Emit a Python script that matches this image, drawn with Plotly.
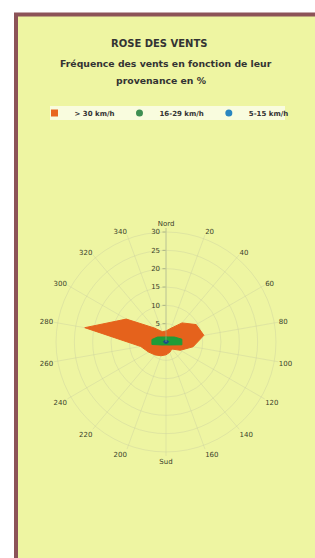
import plotly.graph_objects as go

# Data (wind rose, % frequency by direction)
directions = [0, 20, 40, 60, 80, 100, 120, 140, 160, 180, 200, 220, 240, 260, 280, 300, 320, 340]
dir_labels = ["Nord", "20", "40", "60", "80", "100", "120", "140", "160", "Sud",
              "200", "220", "240", "260", "280", "300", "320", "340"]
series_names = ["> 30 km/h", "16-29 km/h", "5-15 km/h"]
vals_30 = [3, 4, 6.8, 9.5, 10.5, 7.5, 4.5, 2.5, 3, 3.5, 4, 4.6, 5.5, 7, 22.5, 12.5, 5, 3]
vals_16_29 = [1.4, 1.45, 1.8, 2.7, 4.4, 4.4, 1.6, 1.1, 0.85, 0.8, 0.85, 1.1, 1.6, 3.9, 3.9, 2.7, 1.8, 1.45]
vals_5_15 = [0.5, 0.5, 0.5, 0.6, 0.7, 0.6, 0.5, 0.4, 0.4, 0.4, 0.4, 0.4, 0.5, 0.6, 0.7, 0.6, 0.5, 0.5]
colors = ["#e5621c", "#1f9c38", "#1d4f86"]
legend_colors = ["#e8661f", "#3f8f52", "#2a86c0"]
legend_symbols = ["square", "circle", "circle"]
radial_ticks = [5, 10, 15, 20, 25, 30]

W, H = 315, 558
FONT = "DejaVu Sans, Verdana, sans-serif"
TXT = "#3a3f2a"

fig = go.Figure()

for name, vals, col in zip(series_names, [vals_30, vals_16_29, vals_5_15], colors):
    fig.add_trace(go.Scatterpolar(
        r=vals + [vals[0]], theta=directions + [directions[0]],
        mode="lines", fill="toself", fillcolor=col,
        line=dict(color=col, width=1), name=name, showlegend=False,
        hoverinfo="skip"))

# legend entries
for name, col, sym in zip(series_names, legend_colors, legend_symbols):
    fig.add_trace(go.Scatterpolar(
        r=[None], theta=[None], mode="markers",
        marker=dict(color=col, symbol=sym, size=7), name=name, showlegend=True))

cx, cy, R = 166, 342, 114
grid = "rgba(200,205,160,0.4)"
fig.update_layout(
    width=W, height=H, autosize=False,
    margin=dict(l=0, r=0, t=0, b=0),
    paper_bgcolor="white", plot_bgcolor="rgba(0,0,0,0)",
    font=dict(family=FONT, color=TXT),
    shapes=[
        dict(type="rect", xref="paper", yref="paper",
             x0=16 / W, x1=1.05, y0=-0.05, y1=1 - 14.5 / H,
             fillcolor="#eef5a2", line=dict(color="#8c5358", width=4), layer="below"),
        dict(type="rect", xref="paper", yref="paper",
             x0=50 / W, x1=285 / W, y0=1 - 120 / H, y1=1 - 106 / H,
             fillcolor="rgba(255,255,255,0.65)", line=dict(width=0), layer="below"),
    ],
    polar=dict(
        domain=dict(x=[(cx - R) / W, (cx + R) / W], y=[(H - cy - R) / H, (H - cy + R) / H]),
        bgcolor="rgba(0,0,0,0)",
        angularaxis=dict(rotation=90, direction="clockwise",
                         tickmode="array", tickvals=directions, ticktext=dir_labels,
                         tickfont=dict(size=7, color=TXT, family=FONT),
                         showline=False, gridcolor=grid, ticks=""),
        radialaxis=dict(range=[0, 31.1], angle=90, side="counterclockwise", tickangle=90,
                        tickvals=radial_ticks, tickfont=dict(size=7, color=TXT, family=FONT),
                        showline=True, linecolor="rgba(170,180,140,0.6)", linewidth=1,
                        ticks="outside", ticklen=3, tickcolor="rgba(150,160,120,0.7)",
                        gridcolor=grid),
    ),
    legend=dict(orientation="h", x=164 / W, xanchor="center", y=1 - 113 / H, yanchor="middle",
                bgcolor="rgba(0,0,0,0)", font=dict(size=7, color="#333", family=FONT, weight="bold"),
                itemwidth=30, tracegroupgap=0),
    annotations=[
        dict(text="<b>ROSE DES VENTS</b>", x=159 / W, y=1 - 43 / H, xref="paper", yref="paper",
             showarrow=False, font=dict(size=10, color="#333", family=FONT),
             xanchor="center", yanchor="middle"),
        dict(text="<b>Fréquence des vents en fonction de leur</b>",
             x=166 / W, y=1 - 63 / H, xref="paper", yref="paper",
             showarrow=False, font=dict(size=9.3, color="#333", family=FONT),
             xanchor="center", yanchor="middle"),
        dict(text="<b>provenance en %</b>",
             x=162 / W, y=1 - 80 / H, xref="paper", yref="paper",
             showarrow=False, font=dict(size=9.3, color="#333", family=FONT),
             xanchor="center", yanchor="middle"),
    ],
)

fig.write_html("out.html", config={"displayModeBar": False},
               post_script="document.body.style.margin='0px';document.body.style.overflow='hidden';")
